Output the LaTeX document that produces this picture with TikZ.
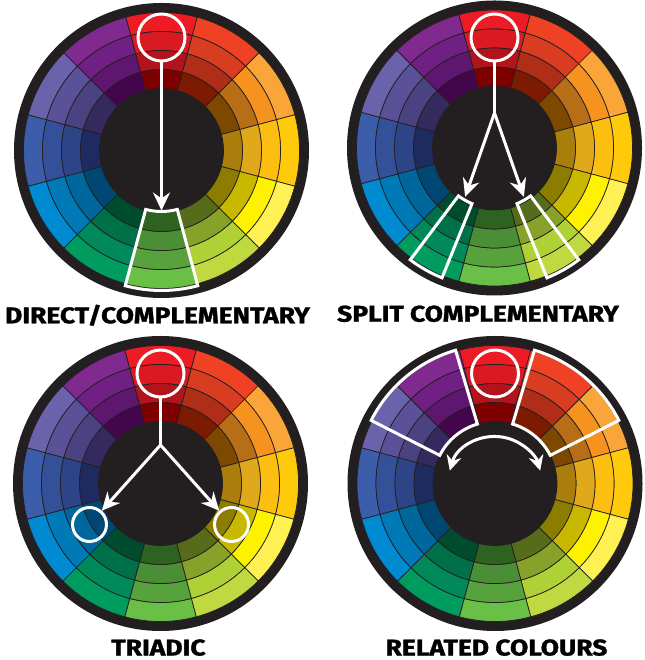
\documentclass[tikz,border=0pt]{standalone}
\usepackage{fontspec}
\setmainfont{Fira Sans}
\newfontfamily\capfont{Fira Sans}[BoldFeatures={FakeBold=1.3}]
\usetikzlibrary{arrows.meta,calc}

\definecolor{rimdark}{HTML}{231F20}
%sector colours, outer ring (a) to inner ring (d), clockwise from the top
\definecolor{s0a}{HTML}{ED1C24}\definecolor{s0b}{HTML}{D91A22}\definecolor{s0c}{HTML}{B3131B}\definecolor{s0d}{HTML}{7E0000}
\definecolor{s1a}{HTML}{EF4123}\definecolor{s1b}{HTML}{D83C21}\definecolor{s1c}{HTML}{B02D17}\definecolor{s1d}{HTML}{7D1A02}
\definecolor{s2a}{HTML}{F9A53A}\definecolor{s2b}{HTML}{F6921E}\definecolor{s2c}{HTML}{B86D17}\definecolor{s2d}{HTML}{7D4800}
\definecolor{s3a}{HTML}{FFCA0C}\definecolor{s3b}{HTML}{FDBE12}\definecolor{s3c}{HTML}{E0A81B}\definecolor{s3d}{HTML}{AA7E0C}
\definecolor{s4a}{HTML}{FFF153}\definecolor{s4b}{HTML}{FFF200}\definecolor{s4c}{HTML}{C9B800}\definecolor{s4d}{HTML}{8C7D00}
\definecolor{s5a}{HTML}{C0D940}\definecolor{s5b}{HTML}{AFD135}\definecolor{s5c}{HTML}{87A12A}\definecolor{s5d}{HTML}{566C1B}
\definecolor{s6a}{HTML}{6ABF46}\definecolor{s6b}{HTML}{58A23E}\definecolor{s6c}{HTML}{4A8F36}\definecolor{s6d}{HTML}{2E6220}
\definecolor{s7a}{HTML}{009C5F}\definecolor{s7b}{HTML}{00895A}\definecolor{s7c}{HTML}{007049}\definecolor{s7d}{HTML}{004C2F}
\definecolor{s8a}{HTML}{008AD2}\definecolor{s8b}{HTML}{007AB6}\definecolor{s8c}{HTML}{00679C}\definecolor{s8d}{HTML}{004873}
\definecolor{s9a}{HTML}{3C5DA9}\definecolor{s9b}{HTML}{345098}\definecolor{s9c}{HTML}{2D4587}\definecolor{s9d}{HTML}{1D2B60}
\definecolor{s10a}{HTML}{6A63AC}\definecolor{s10b}{HTML}{5A5198}\definecolor{s10c}{HTML}{4B4381}\definecolor{s10d}{HTML}{342A5E}
\definecolor{s11a}{HTML}{80298F}\definecolor{s11b}{HTML}{6F2082}\definecolor{s11c}{HTML}{5E166F}\definecolor{s11d}{HTML}{43064D}

\begin{document}
\begin{tikzpicture}[x=1pt,y=1pt,
	cell/.style={draw=rimdark, line width=0.7pt},
	selring/.style={circle, draw=white, line width=3pt, inner sep=0pt, minimum size=47pt},
	triring/.style={circle, draw=white, line width=3pt, inner sep=0pt, minimum size=34pt},
	selbox/.style={draw=white, line width=3pt, line join=miter},
	whiteline/.style={white, line width=3pt},
	whitearrow/.style={white, line width=3pt, -{Stealth[length=18pt,width=17pt,inset=6pt]}},
	caption/.style={anchor=base, inner sep=0pt, text depth=0pt, text=black, xscale=1.16, font=\capfont\fontsize{22.8}{24}\selectfont\bfseries}]

\useasboundingbox (0,0) rectangle (644,660);

%wheel centres
\coordinate (C1) at (161.5,509.5);		%top left
\coordinate (C2) at (494.5,512);		%top right
\coordinate (C3) at (160.5,176.5);		%bottom left
\coordinate (C4) at (495,176.5);		%bottom right

%the four colour wheels
\foreach \w in {C1,C2,C3,C4}{
\begin{scope}[shift={(\w)}]
	\fill[rimdark] (0,0) circle (147.5);
	\foreach \s in {0,...,11}{
		\pgfmathsetmacro\aa{75-30*\s}
		\pgfmathsetmacro\ab{105-30*\s}
		\foreach \ring/\ri/\ro in {a/119/138, b/100/119, c/81/100, d/62/81}
			\filldraw[fill=s\s\ring, cell] (\aa:\ri) -- (\aa:\ro) arc[start angle=\aa, end angle=\ab, radius=\ro] -- (\ab:\ri) arc[start angle=\ab, end angle=\aa, radius=\ri] -- cycle;
	}
	\fill[rimdark] (0,0) circle (62);
\end{scope}
}

%direct/complementary
\begin{scope}[shift={(C1)}]
	\node[selring] (sel1) at (90:113) {};
	\coordinate (tip1) at (270:60);
	\draw[whitearrow] (sel1) -- (tip1);
	\draw[selbox] (255:61) -- (255:140) arc[start angle=255, end angle=285, radius=140] -- (285:61) arc[start angle=285, end angle=255, radius=61] -- cycle;
\end{scope}

%split complementary
\begin{scope}[shift={(C2)}]
	\node[selring] (sel2) at (90:110.5) {};
	\coordinate (fork2) at (90:35);
	\coordinate (tipL2) at (-121:57);
	\coordinate (tipR2) at (-59:57);
	\draw[whiteline] (sel2) -- (fork2);
	\draw[whitearrow] (fork2) -- (tipL2);
	\draw[whitearrow] (fork2) -- (tipR2);
	\draw[selbox] (-127:60) -- (-127:140) arc[start angle=-127, end angle=-112, radius=140] -- (-112:60) arc[start angle=-112, end angle=-127, radius=60] -- cycle;
	\draw[selbox] (-68:60) -- (-68:140) arc[start angle=-68, end angle=-53, radius=140] -- (-53:60) arc[start angle=-53, end angle=-68, radius=60] -- cycle;
\end{scope}

%triadic
\begin{scope}[shift={(C3)}]
	\node[selring] (sel3) at (90:110) {};
	\coordinate (fork3) at (90:38.5);
	\node[triring] (tri1) at (-150:82) {};
	\node[triring] (tri2) at (-30:82) {};
	\draw[whiteline] (sel3) -- (fork3);
	\draw[whitearrow] (fork3) -- (tri1);
	\draw[whitearrow] (fork3) -- (tri2);
\end{scope}

%related colours
\begin{scope}[shift={(C4)}]
	\node[selring] (sel4) at (90:110) {};
	\draw[selbox] (106.5:62) -- (106.5:139) arc[start angle=106.5, end angle=153, radius=139] -- (153:62) arc[start angle=153, end angle=106.5, radius=62] -- cycle;
	\draw[selbox] (73.5:62) -- (73.5:139) arc[start angle=73.5, end angle=27, radius=139] -- (27:62) arc[start angle=27, end angle=73.5, radius=62] -- cycle;
	\draw[white, line width=3pt, {Stealth[length=15pt,width=15pt,inset=5pt]}-{Stealth[length=15pt,width=15pt,inset=5pt]}] (164:47) arc[start angle=164, end angle=16, radius=47];
\end{scope}

%captions
\node[caption] (direct) at (157.5,336.7) {DIRECT/COMPLEMENTARY};
\node[caption] (split) at (478,338.3) {SPLIT COMPLEMENTARY};
\node[caption] (triadic) at (158.5,4.5) {TRIADIC};
\node[caption] (related) at (496.5,4.5) {RELATED COLOURS};

\end{tikzpicture}
\end{document}
